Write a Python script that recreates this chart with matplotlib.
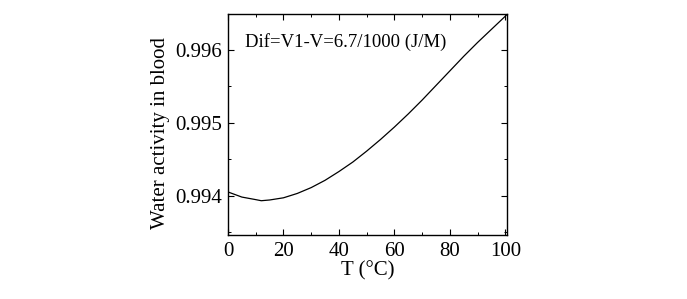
import matplotlib
matplotlib.use("Agg")
import matplotlib.pyplot as plt
from matplotlib.ticker import MultipleLocator

# values
temp = [0, 5, 10, 12, 15, 20, 25, 30, 35, 40, 45, 50, 55, 60, 65, 70, 75, 80, 85, 90, 95, 100, 101]
aw = [0.99405, 0.99398, 0.993945, 0.99393, 0.99394, 0.99397, 0.99403, 0.99411, 0.99421, 0.99433,
      0.99446, 0.99461, 0.99477, 0.99494, 0.99512, 0.99531, 0.99551, 0.99571, 0.99591, 0.99610,
      0.99628, 0.99646, 0.9965]
x_ticks = [0, 20, 40, 60, 80, 100]
y_ticks = [0.994, 0.995, 0.996]
note = "Dif=V1-V=6.7/1000 (J/M)"

plt.rcParams['font.family'] = ['Liberation Serif', 'DejaVu Serif']

fig = plt.figure(figsize=(6.87, 2.99), dpi=100)
ax = fig.add_axes([228/687, 1-235/299, (507-228)/687, (235-14)/299])

ax.plot(temp, aw, color="black", lw=0.9)

ax.set_xlim(0, 100.6)
ax.set_ylim(0.99346, 0.99649)
ax.set_xticks(x_ticks)
ax.set_yticks(y_ticks)
ax.set_yticklabels([f"{v:.3f}" for v in y_ticks])
ax.xaxis.set_minor_locator(MultipleLocator(10))
ax.yaxis.set_minor_locator(MultipleLocator(0.0005))
ax.tick_params(which="both", direction="in", top=True, right=True, labelsize=15, pad=4)
ax.tick_params(axis="x", pad=5)
ax.tick_params(which="major", length=4, width=0.8)
ax.tick_params(which="minor", length=2.5, width=0.7)
for s in ax.spines.values():
    s.set_linewidth(1.0)

ax.set_xlabel("T (°C)", fontsize=15, labelpad=0)
ax.set_ylabel("Water activity in blood", fontsize=15)
ax.yaxis.set_label_coords(-0.207, 0.46)

ax.text(6, 0.99611, note, fontsize=13.5, va="center", ha="left")

fig.savefig("out.png", dpi=100)
